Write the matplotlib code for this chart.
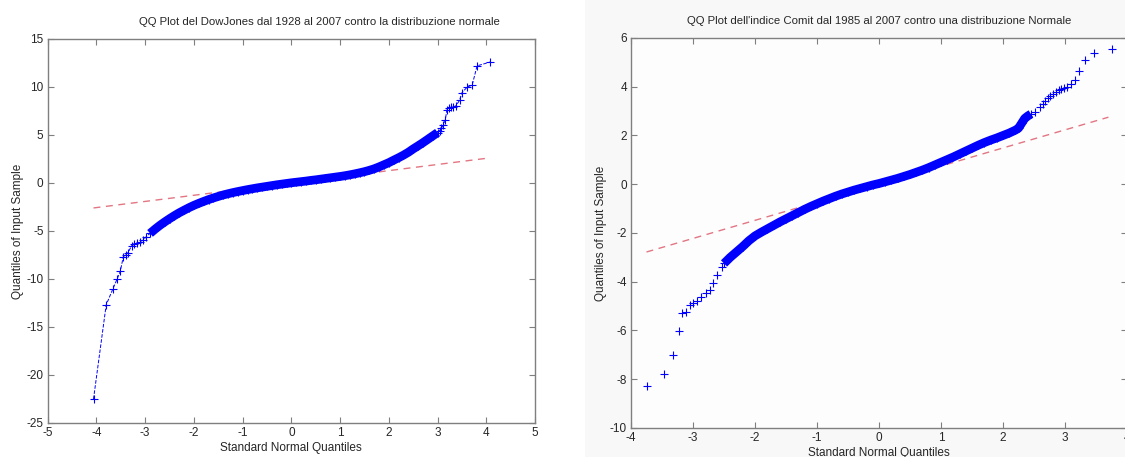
import matplotlib
matplotlib.use("Agg")
import matplotlib.pyplot as plt
from matplotlib.patches import Rectangle

plt.rcParams['font.family'] = ['Liberation Sans', 'DejaVu Sans']
plt.rcParams['axes.unicode_minus'] = False

# --- DowJones 1928-2007 ---
dj_title = "QQ Plot del DowJones dal 1928 al 2007 contro la distribuzione normale"
dj_low_q = [-4.06, -3.80, -3.66, -3.58, -3.51, -3.45, -3.40, -3.35, -3.28, -3.22, -3.16, -3.10, -3.04, -2.98]
dj_low_s = [-22.5, -12.7, -11.0, -10.05, -9.2, -7.7, -7.45, -7.25, -6.55, -6.4, -6.3, -6.1, -5.95, -5.6]
dj_body_q = [-2.9, -2.8, -2.7, -2.6, -2.5, -2.4, -2.3, -2.2, -2.1, -2.0,
             -1.9, -1.8, -1.7, -1.6, -1.5, -1.4, -1.3, -1.2, -1.1, -1.0,
             -0.9, -0.8, -0.7, -0.6, -0.5, -0.4, -0.3, -0.2, -0.1, 0.0,
             0.1, 0.2, 0.3, 0.4, 0.5, 0.6, 0.7, 0.8, 0.9, 1.0,
             1.1, 1.2, 1.3, 1.4, 1.5, 1.6, 1.7, 1.8, 1.9, 2.0,
             2.1, 2.2, 2.3, 2.4, 2.5, 2.6, 2.7, 2.8, 2.9, 3.0]
dj_body_s = [-5.25, -4.82, -4.42, -4.06, -3.72, -3.4, -3.1, -2.83, -2.57, -2.33,
             -2.12, -1.92, -1.73, -1.56, -1.4, -1.25, -1.12, -1.0, -0.89, -0.79,
             -0.69, -0.6, -0.51, -0.43, -0.35, -0.27, -0.19, -0.12, -0.05, 0.02,
             0.08, 0.14, 0.2, 0.27, 0.33, 0.4, 0.47, 0.54, 0.61, 0.68,
             0.76, 0.85, 0.95, 1.06, 1.18, 1.32, 1.48, 1.68, 1.9, 2.12,
             2.38, 2.63, 2.9, 3.2, 3.55, 3.87, 4.2, 4.55, 4.9, 5.25]
dj_high_q = [3.04, 3.08, 3.12, 3.16, 3.19, 3.23, 3.27, 3.32, 3.37, 3.45, 3.50, 3.61, 3.71, 3.81, 4.08]
dj_high_s = [5.45, 5.7, 6.0, 6.6, 7.6, 7.8, 7.9, 7.95, 8.0, 8.6, 9.4, 10.0, 10.2, 12.2, 12.6]
dj_ref_q = [-4.06, 4.08]
dj_ref_s = [-2.6, 2.62]

# --- indice Comit 1985-2007 ---
cm_title = "QQ Plot dell'indice Comit dal 1985 al 2007 contro una distribuzione Normale"
cm_low_q = [-3.75, -3.46, -3.33, -3.23, -3.17, -3.11, -3.05, -3.0, -2.94, -2.87, -2.79, -2.73, -2.68, -2.61, -2.53]
cm_low_s = [-8.26, -7.77, -7.0, -6.02, -5.3, -5.26, -4.96, -4.89, -4.78, -4.62, -4.48, -4.32, -4.07, -3.73, -3.39]
cm_body_q = [-2.5, -2.4, -2.3, -2.2, -2.1, -2.0,
             -1.9, -1.8, -1.7, -1.6, -1.5, -1.4, -1.3, -1.2, -1.1, -1.0,
             -0.9, -0.8, -0.7, -0.6, -0.5, -0.4, -0.3, -0.2, -0.1, 0.0,
             0.1, 0.2, 0.3, 0.4, 0.5, 0.6, 0.7, 0.8, 0.9, 1.0,
             1.1, 1.2, 1.3, 1.4, 1.5, 1.6, 1.7, 1.8, 1.9, 2.0,
             2.1, 2.2, 2.25, 2.3, 2.35, 2.4, 2.45]
cm_body_s = [-3.25, -3.0, -2.78, -2.56, -2.32, -2.12,
             -1.97, -1.83, -1.69, -1.55, -1.42, -1.29, -1.16, -1.03, -0.91, -0.8,
             -0.69, -0.59, -0.49, -0.4, -0.32, -0.24, -0.17, -0.1, -0.03, 0.03,
             0.1, 0.17, 0.24, 0.32, 0.4, 0.49, 0.58, 0.68, 0.79, 0.9,
             1.01, 1.12, 1.24, 1.36, 1.48, 1.6, 1.71, 1.81, 1.9, 2.0,
             2.1, 2.22, 2.3, 2.5, 2.7, 2.8, 2.88]
cm_high_q = [2.52, 2.59, 2.64, 2.68, 2.72, 2.76, 2.81, 2.85, 2.9, 2.94, 2.99, 3.03, 3.1, 3.16, 3.23, 3.33, 3.47, 3.75]
cm_high_s = [2.98, 3.16, 3.3, 3.43, 3.55, 3.64, 3.72, 3.8, 3.85, 3.9, 3.95, 4.0, 4.1, 4.28, 4.65, 5.1, 5.37, 5.54]
cm_ref_q = [-3.75, 3.70]
cm_ref_s = [-2.78, 2.75]

blue = '#0000ff'
red = '#e27682'
axis_gray = '#7f7f7f'
text_col = '#262626'

fig = plt.figure(figsize=(11.25, 4.57), dpi=100)
fig.patch.set_facecolor('white')
fig.add_artist(Rectangle((0.52, 0), 0.48, 1, transform=fig.transFigure,
                         facecolor='#f8f8f8', edgecolor='none', zorder=-1))


def qq_panel(ax, title, low_q, low_s, body_q, body_s, high_q, high_s,
             ref_q, ref_s, xlim, ylim, xticks, yticks, joined):
    ls = '--' if joined else 'none'
    q = low_q + body_q + high_q
    s = low_s + body_s + high_s
    ax.plot(ref_q, ref_s, color=red, lw=1.0, ls=(0, (5, 4)), zorder=1)
    # dense central part: thousands of overlapping crosses
    ax.plot(body_q, body_s, color=blue, lw=6.3, solid_capstyle='butt', zorder=2)
    ax.plot(q, s, color=blue, ls=ls, lw=0.7, marker='+', ms=6, mew=0.8, zorder=3)
    ax.set_xlim(*xlim)
    ax.set_ylim(*ylim)
    ax.set_xticks(xticks)
    ax.set_yticks(yticks)
    ax.tick_params(direction='in', length=4, width=0.8, color=axis_gray,
                   top=True, right=True, labelsize=8.5, labelcolor=text_col, pad=3)
    for sp in ax.spines.values():
        sp.set_color(axis_gray)
        sp.set_linewidth(1.0)
    ax.set_title(title, fontsize=8.2, color=text_col, pad=10)
    ax.set_xlabel("Standard Normal Quantiles", fontsize=8.5, color=text_col, labelpad=2)
    ax.set_ylabel("Quantiles of Input Sample", fontsize=8.5, color=text_col, labelpad=2)


ax1 = fig.add_axes([0.0424, 0.0744, 0.4332, 0.8403])
qq_panel(ax1, dj_title, dj_low_q, dj_low_s, dj_body_q, dj_body_s, dj_high_q, dj_high_s,
         dj_ref_q, dj_ref_s, (-5, 5), (-25, 15), range(-5, 6), range(-25, 16, 5), True)
ax1.title.set_x(0.558)

ax2 = fig.add_axes([0.5609, 0.0635, 0.4409, 0.8534])
qq_panel(ax2, cm_title, cm_low_q, cm_low_s, cm_body_q, cm_body_s, cm_high_q, cm_high_s,
         cm_ref_q, cm_ref_s, (-4, 4), (-10, 6), range(-4, 5), range(-10, 7, 2), False)
ax2.set_facecolor('#fdfdfd')

fig.savefig("out.png", dpi=100)
